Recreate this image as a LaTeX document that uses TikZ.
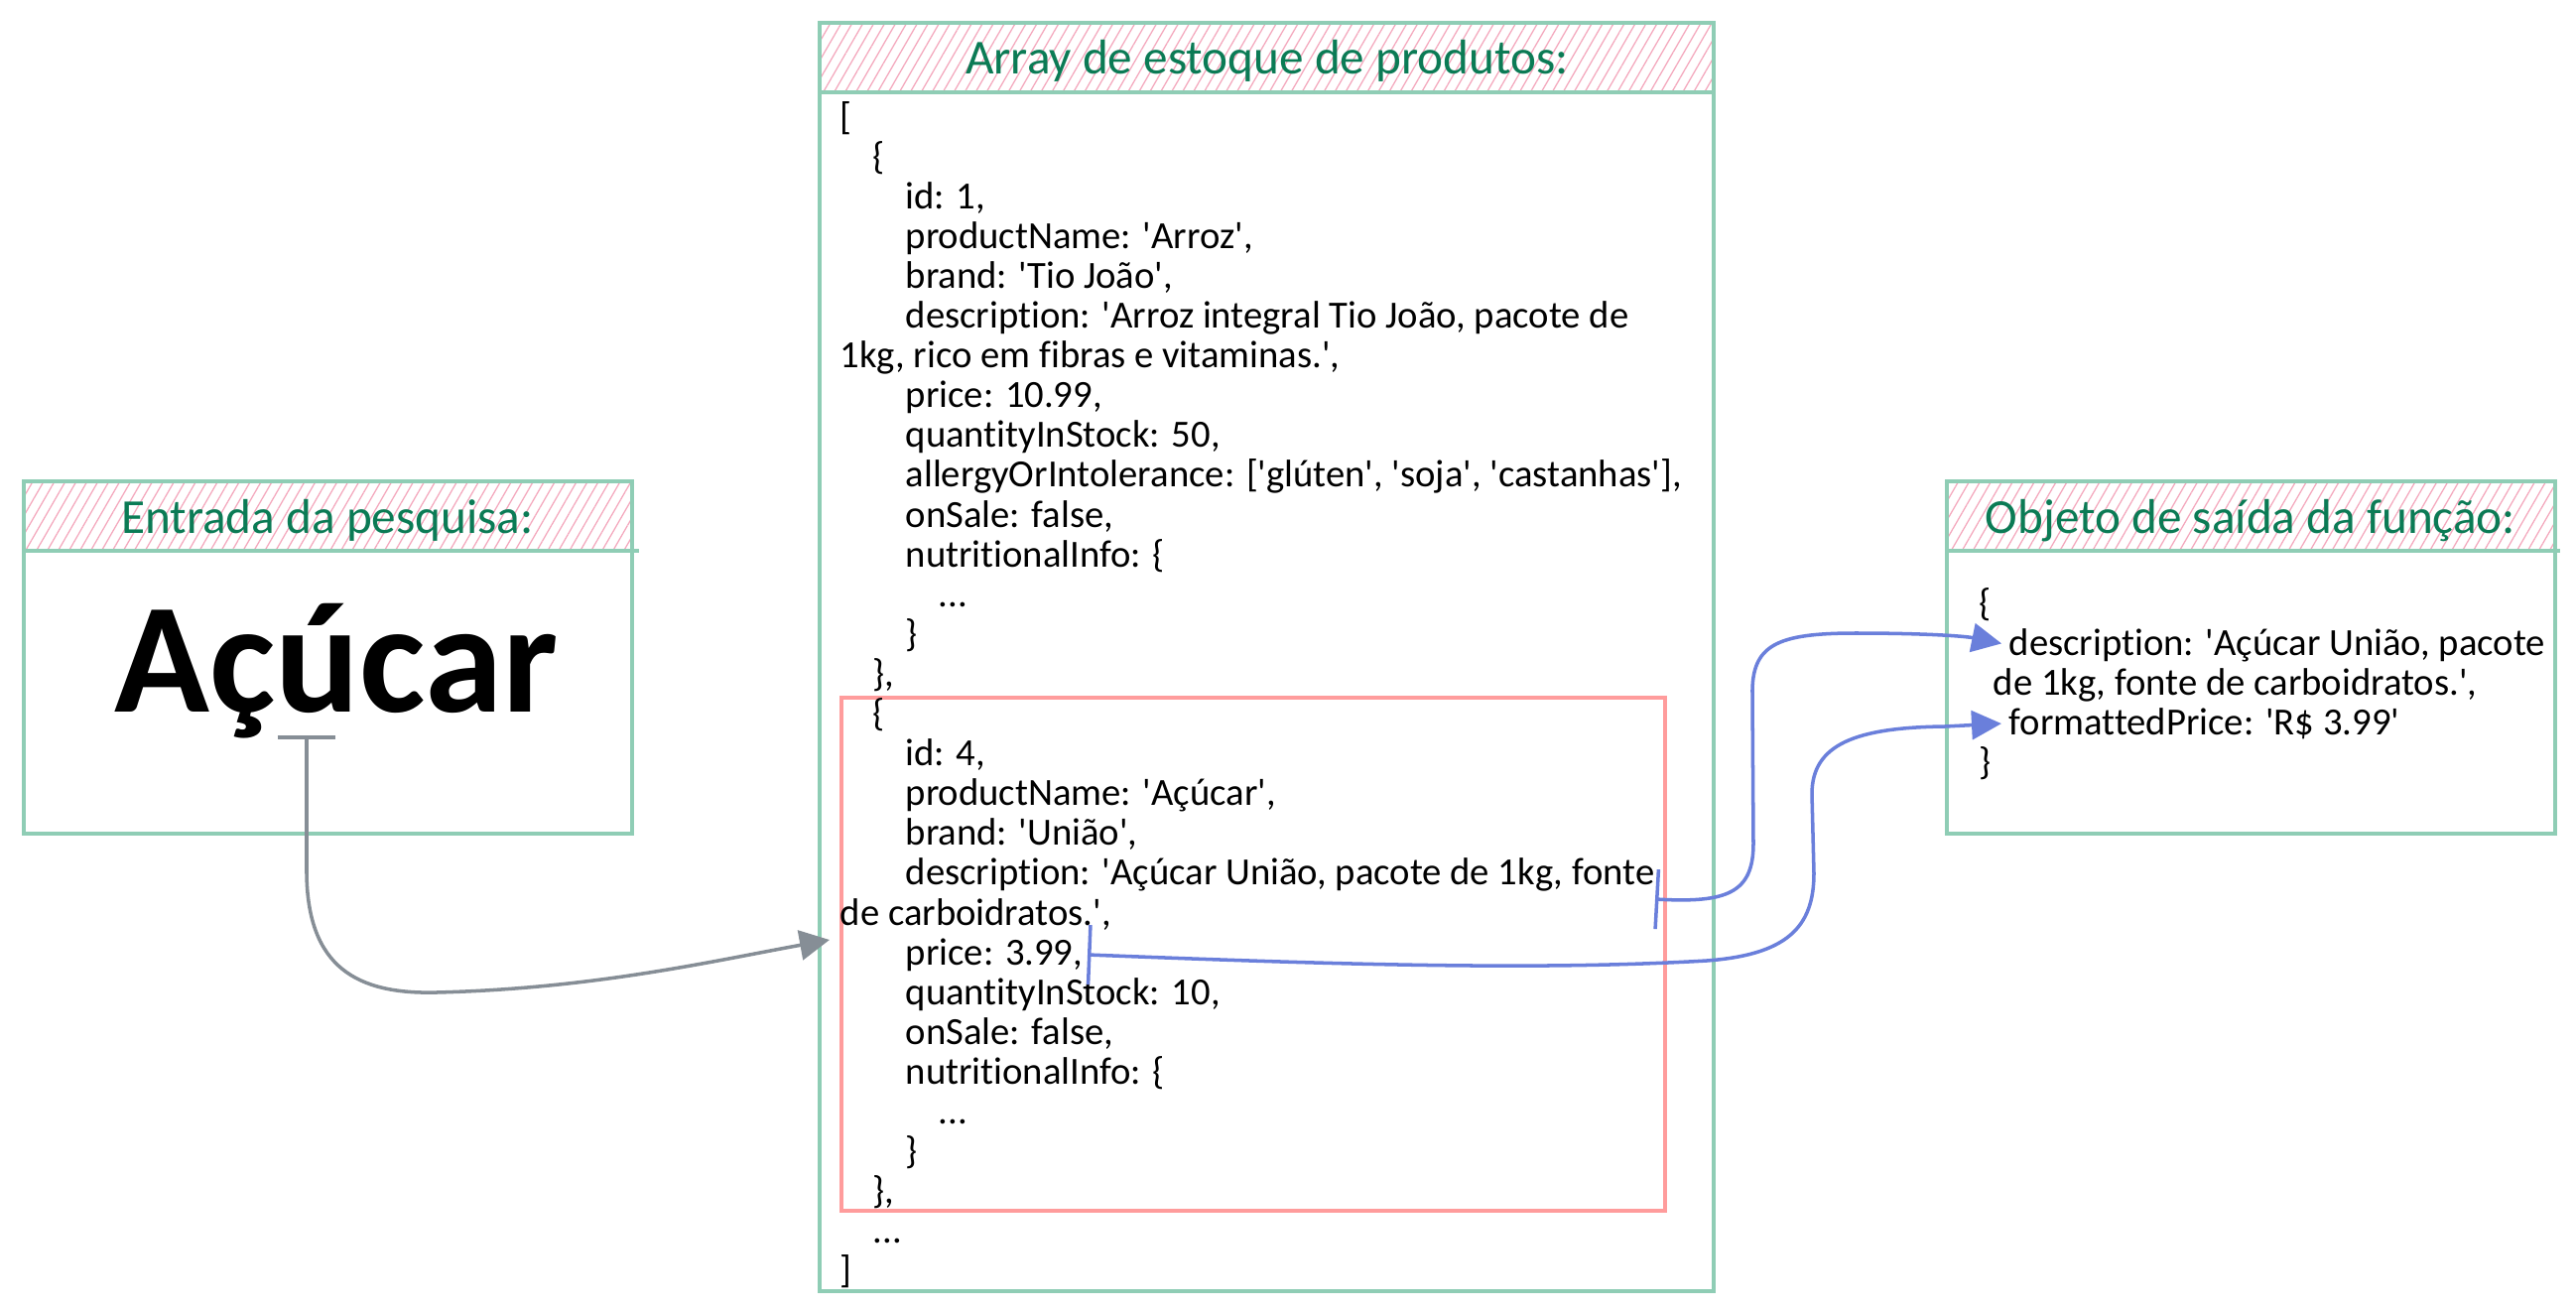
\documentclass[tikz,border=0pt]{standalone}
\usepackage{fontspec}
\setmainfont{Carlito}[Ligatures=CommonOff]
\usetikzlibrary{arrows.meta,patterns.meta}
\definecolor{panelgreen}{HTML}{8FCDB5}
\definecolor{titlegreen}{HTML}{0B7B55}
\definecolor{hatchpink}{HTML}{F4A7BC}
\definecolor{matchred}{HTML}{FF9C9C}
\definecolor{linkblue}{HTML}{6A7FDB}
\definecolor{linkgray}{HTML}{868E96}
\newcommand{\sq}{\textquotesingle}
\tikzset{
  panel/.style={draw=panelgreen,line width=0.9pt},
  headband/.style={pattern={Lines[angle=60,distance=2.7pt,line width=0.35pt]},pattern color=hatchpink},
  headline/.style={draw=panelgreen,line width=1.3pt},
  matchbox/.style={draw=matchred,line width=0.9pt},
  boxtitle/.style={anchor=base,inner sep=0pt,text=titlegreen,font=\fontsize{14}{16}\selectfont},
  codeline/.style={anchor=base west,inner sep=0pt,font=\fontsize{11}{13}\selectfont},
  searchlink/.style={{Bar[width=0.58cm]}-{Triangle[length=0.3cm,width=0.3cm]},line width=1pt,linkgray},
  fieldlink/.style={{Bar[width=0.6cm]}-{Triangle[length=0.3cm,width=0.29cm]},line width=1pt,linkblue,shorten >=2pt}
}
\begin{document}
\begin{tikzpicture}[x=0.01cm,y=-0.01cm]
  \path[fill=white,use as bounding box] (0,0) rectangle (2596,1321);

  % search input
  \fill[headband] (24,485) rectangle (637,555);
  \draw[panel] (24,485) rectangle (637,840);
  \draw[headline] (24,555) -- (644,555);
  \node[boxtitle] (searchtitle) at (330,537) {Entrada da pesquisa:};
  \node[anchor=base,inner sep=0pt,font=\bfseries\fontsize{45}{50}\selectfont] (searchword) at (339,717) {Açúcar};

  % stock array
  \fill[headband] (826,23) rectangle (1727,93);
  \draw[panel] (826,23) rectangle (1727,1301);
  \draw[headline] (826,93) -- (1727,93);
  \node[boxtitle] (stocktitle) at (1277,74) {Array de estoque de produtos:};
  \draw[matchbox] (848,703) rectangle (1678,1220);
  \foreach \lvl/\txt [count=\i] in {
    0/{[},
    1/{\{},
    2/{id: 1,},
    2/{productName: \sq Arroz\sq,},
    2/{brand: \sq Tio João\sq,},
    2/{description: \sq Arroz integral Tio João, pacote de},
    0/{1kg, rico em fibras e vitaminas.\sq,},
    2/{price: 10.99,},
    2/{quantityInStock: 50,},
    2/{allergyOrIntolerance: [\sq glúten\sq, \sq soja\sq, \sq castanhas\sq],},
    2/{onSale: false,},
    2/{nutritionalInfo: \{},
    3/{...},
    2/{\}},
    1/{\},},
    1/{\{},
    2/{id: 4,},
    2/{productName: \sq Açúcar\sq,},
    2/{brand: \sq União\sq,},
    2/{description: \sq Açúcar União, pacote de 1kg, fonte},
    0/{de carboidratos.\sq,},
    2/{price: 3.99,},
    2/{quantityInStock: 10,},
    2/{onSale: false,},
    2/{nutritionalInfo: \{},
    3/{...},
    2/{\}},
    1/{\},},
    1/{...},
    0/{]}}
    \node[codeline] (stock\i) at ({846+33*\lvl},{130+40.1*(\i-1)}) {\txt};

  % function output
  \fill[headband] (1962,485) rectangle (2575,555);
  \draw[panel] (1962,485) rectangle (2575,840);
  \draw[headline] (1962,555) -- (2580,555);
  \node[boxtitle] (outtitle) at (2268,537) {Objeto de saída da função:};
  \node[codeline] (outOpen) at (1994,620) {\{};
  \node[codeline] (outDesc) at (2024,660) {description: \sq Açúcar União, pacote};
  \node[codeline] (outWrap) at (2008,700) {de 1kg, fonte de carboidratos.\sq,};
  \node[codeline] (outPrice) at (2024,740) {formattedPrice: \sq R\$ 3.99\sq};
  \node[codeline] (outClose) at (1994,780) {\}};

  % links
  \coordinate (searchStart) at (309,741);
  \coordinate (stockIn) at (836,947);
  \coordinate (descEnd) at (1668,906);
  \coordinate (priceEnd) at (1096,962);
  \draw[searchlink] (searchStart) -- (309,880) .. controls (310,975) and (360,1002) .. (440,1000)
    .. controls (600,996) and (720,968) .. (stockIn);
  \draw[fieldlink] (descEnd) .. controls (1740,910) and (1767,900) .. (1767,850) -- (1766,700)
    .. controls (1765,650) and (1790,638) .. (1870,638) .. controls (1940,638) and (1980,641) .. (outDesc.west);
  \draw[fieldlink] (priceEnd) .. controls (1350,972) and (1550,978) .. (1720,968)
    .. controls (1800,962) and (1828,935) .. (1828,880) -- (1826,800)
    .. controls (1826,750) and (1870,733) .. (1960,732) -- (outPrice.west);
\end{tikzpicture}
\end{document}
